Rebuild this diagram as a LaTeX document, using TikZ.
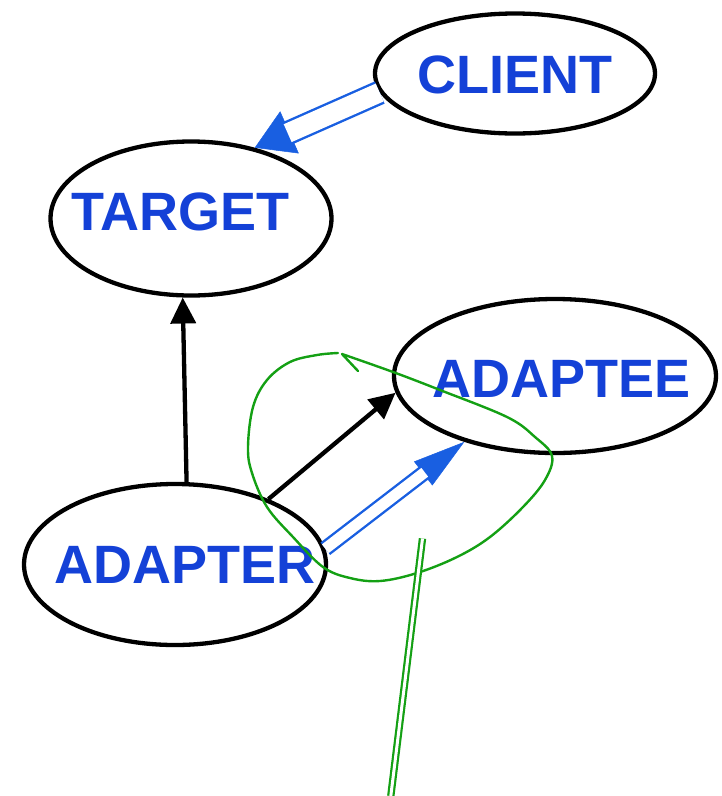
\documentclass[tikz,border=0pt]{standalone}
\usepackage{fontspec}
\setmainfont{Liberation Sans}
\usetikzlibrary{arrows.meta,calc,shapes.geometric}
\definecolor{txtblue}{RGB}{20,65,215}
\definecolor{arrblue}{RGB}{25,95,225}
\definecolor{penc}{RGB}{20,160,20}
\begin{document}
\begin{tikzpicture}[x=1pt,y=-1pt,
 ell/.style={ellipse, draw=black, line width=4.3pt, inner sep=0pt},
 lbl/.style={text=txtblue, font=\bfseries\fontsize{54}{54}\selectfont, inner sep=0pt},
 blk/.style={draw=black, line width=4.3pt, -{Triangle[length=26pt,width=25pt]}},
 dblline/.style={draw=arrblue, line width=2.4pt, double=white, double distance=#1},
 bluetip/.style={draw=arrblue, fill=arrblue, line width=0.5pt, -{Triangle[#1]}},
 pen/.style={draw=penc, line width=2.4pt, line cap=round, line join=round}
]
\useasboundingbox (0,0) rectangle (721,796);
% ellipses
\node[ell, minimum width=280, minimum height=120] (client) at (515,73.5) {};
\node[ell, minimum width=281, minimum height=154] (target) at (191,218.5) {};
\node[ell, minimum width=322, minimum height=154] (adaptee) at (555,376) {};
\node[ell, minimum width=302, minimum height=161] (adapter) at (175,564.5) {};
% labels
\node[lbl] (clientT) at (515.3,75) {CLIENT};
\node[lbl] (targetT) at (180.3,212) {TARGET};
\node[lbl] (adapteeT) at (561.3,378.7) {ADAPTEE};
\node[lbl] (adapterT) at (184.7,564.5) {ADAPTER};
% black arrows
\draw[blk] (adapter.82) -- (target.264);
\draw[blk] (adapter.35) -- (adaptee.186);
% blue double arrows
\draw[bluetip={length=38pt,width=46pt}] ($(target.48)!3pt!(client.188)$) -- (target.48);
\draw[dblline=19.5pt, shorten >=36pt] (client.188) -- (target.48);
\draw[bluetip={length=52pt,width=30pt}] ($(adaptee.216)!3pt!(adapter.6)$) -- (adaptee.216);
\draw[dblline=11pt, shorten >=50pt] (adapter.6) -- (adaptee.216);
% green annotation
\draw[pen] (358,371) -- plot[smooth, tension=0.6] coordinates {(342,354) (393,372) (440,390) (507,417) (535,437) (552,456) (545,480) (523,507) (490,537) (457,557) (417,573) (380,581) (350,578) (323,567) (293,537) (267,507) (252,473) (248,447) (253,407) (267,380) (290,362) (317,355) (338,353)};
\draw[pen, line width=2.2pt, line cap=butt, double=white, double distance=3pt] (422.5,538.5) -- (390.8,796);
\end{tikzpicture}
\end{document}
